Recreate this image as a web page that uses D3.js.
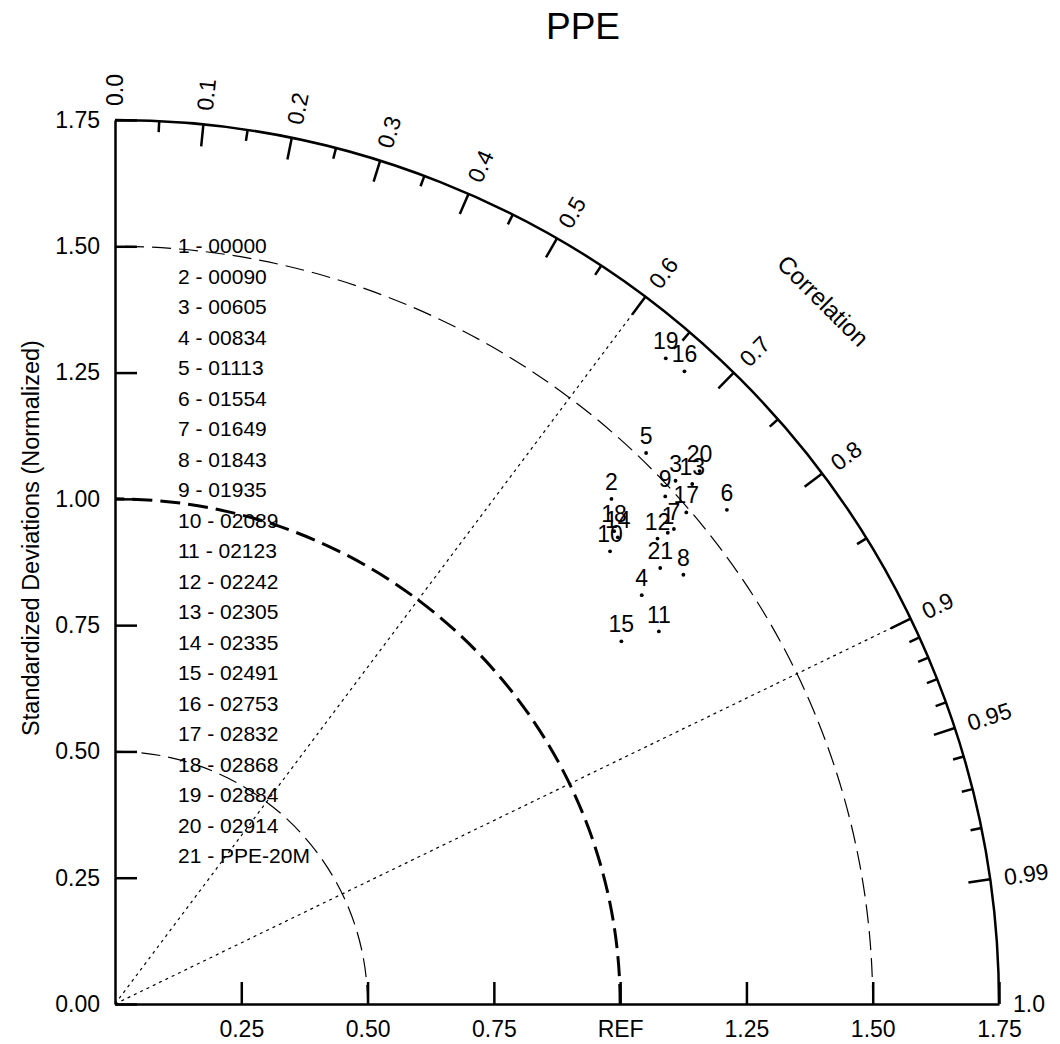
<!DOCTYPE html>
<html>
<head>
<meta charset="utf-8">
<script src="https://cdn.jsdelivr.net/npm/d3@7"></script>
<style>
  body { margin: 0; background: #fff; }
  svg text { font-family: "Liberation Sans", Arial, Helvetica, sans-serif; fill: #000; }
</style>
</head>
<body>
<div id="chart"></div>
<script>
// Case names (legend), numbered 1..21
const caseNames = ['00000', '00090', '00605', '00834', '01113', '01554', '01649', '01843', '01935',
  '02089', '02123', '02242', '02305', '02335', '02491', '02753', '02832', '02868', '02884', '02914',
  'PPE-20M'];

// Normalized standard deviation and correlation of each case
const stdDevs = [1.438, 1.402, 1.518, 1.320, 1.515, 1.557, 1.452, 1.410, 1.482, 1.328, 1.305,
  1.415, 1.538, 1.358, 1.233, 1.685, 1.492, 1.361, 1.680, 1.566, 1.382];
const correlations = [0.761, 0.701, 0.731, 0.790, 0.694, 0.778, 0.762, 0.798, 0.735, 0.738, 0.825,
  0.759, 0.743, 0.733, 0.813, 0.669, 0.758, 0.726, 0.649, 0.739, 0.781];

// Axis ticks
const sdTicks = [0, 0.25, 0.5, 0.75, 1.0, 1.25, 1.5, 1.75];
const corrMajor = [0.1, 0.2, 0.3, 0.4, 0.5, 0.6, 0.7, 0.8, 0.9, 0.95, 0.99];
const corrMinor = [0.05, 0.15, 0.25, 0.35, 0.45, 0.55, 0.65, 0.75, 0.85, 0.91, 0.92, 0.93, 0.94,
  0.96, 0.97, 0.98];
const corrLabels = [0.0, 0.1, 0.2, 0.3, 0.4, 0.5, 0.6, 0.7, 0.8, 0.9, 0.95, 0.99, 1.0];
const sdArcs = [0.5, 1.0, 1.5];
const corrLines = [0.6, 0.9];

class TaylorDiagram {
  constructor(_config) {
    this.config = {
      parentElement: _config.parentElement,
      containerWidth: 1060,
      containerHeight: 1044,
      origin: { x: 115, y: 1004 },
      maxSd: 1.75,
      radius: 884,
    };
    this.initVis();
  }

  initVis() {
    const vis = this;
    const c = vis.config;

    vis.svg = d3.select(c.parentElement).append('svg')
        .attr('width', c.containerWidth)
        .attr('height', c.containerHeight);

    vis.chart = vis.svg.append('g')
        .attr('transform', `translate(${c.origin.x},${c.origin.y})`);

    vis.xScale = d3.scaleLinear().domain([0, c.maxSd]).range([0, c.radius]);
    vis.yScale = d3.scaleLinear().domain([0, c.maxSd]).range([0, -c.radius]);
    vis.rScale = d3.scaleLinear().domain([0, c.maxSd]).range([0, c.radius]);

    vis.renderVis();
  }

  // polar -> screen, angle from correlation
  pt(sd, corr) {
    const r = this.rScale(sd);
    const a = Math.acos(corr);
    return [r * Math.cos(a), -r * Math.sin(a)];
  }

  arcPath(sd) {
    const r = this.rScale(sd);
    const p = d3.path();
    p.moveTo(r, 0);
    p.arc(0, 0, r, 0, -Math.PI / 2, true);
    return p.toString();
  }

  renderVis() {
    const vis = this;
    const c = vis.config;

    // title
    vis.svg.append('text')
        .attr('x', 583).attr('y', 39)
        .attr('text-anchor', 'middle')
        .style('font-size', '37px')
        .text('PPE');

    // std dev arcs (dashed), REF one thicker
    vis.chart.selectAll('.sd-arc')
        .data(sdArcs)
        .join('path')
        .attr('class', 'sd-arc')
        .attr('d', d => vis.arcPath(d))
        .attr('fill', 'none')
        .attr('stroke', '#000')
        .attr('stroke-width', d => d === 1.0 ? 3 : 1.2)
        .attr('stroke-dasharray', d => d === 1.0 ? '20,8' : '19,8');

    // correlation reference lines (dotted)
    vis.chart.selectAll('.corr-line')
        .data(corrLines)
        .join('line')
        .attr('class', 'corr-line')
        .attr('x1', 0).attr('y1', 0)
        .attr('x2', d => vis.pt(c.maxSd, d)[0])
        .attr('y2', d => vis.pt(c.maxSd, d)[1])
        .attr('stroke', '#000')
        .attr('stroke-width', 1.2)
        .attr('stroke-dasharray', '3,4');

    // outer arc
    vis.chart.append('path')
        .attr('d', vis.arcPath(c.maxSd))
        .attr('fill', 'none')
        .attr('stroke', '#000')
        .attr('stroke-width', 2.5);

    // axes
    const yAxis = d3.axisLeft(vis.yScale)
        .tickValues(sdTicks)
        .tickFormat(d3.format('.2f'))
        .tickSizeInner(-22)
        .tickSizeOuter(0)
        .tickPadding(15);

    const xAxis = d3.axisBottom(vis.xScale)
        .tickValues(sdTicks.slice(1))
        .tickFormat(d => d === 1 ? 'REF' : d3.format('.2f')(d))
        .tickSizeInner(-22)
        .tickSizeOuter(0)
        .tickPadding(17);

    const yG = vis.chart.append('g').call(yAxis);
    const xG = vis.chart.append('g').call(xAxis);
    [yG, xG].forEach(g => {
      g.attr('font-size', null).attr('font-family', null);
      g.selectAll('path, line').attr('stroke', '#000').attr('stroke-width', 2.5);
      g.selectAll('text').style('font-size', '23px').attr('fill', '#000');
    });

    // correlation ticks on the outer arc
    const tickData = corrMajor.map(d => ({ v: d, len: 22 }))
        .concat(corrMinor.map(d => ({ v: d, len: 11 })));
    vis.chart.selectAll('.corr-tick')
        .data(tickData)
        .join('line')
        .attr('class', 'corr-tick')
        .attr('x1', d => vis.pt(c.maxSd, d.v)[0])
        .attr('y1', d => vis.pt(c.maxSd, d.v)[1])
        .attr('x2', d => vis.pt(c.maxSd - vis.rScale.invert(d.len), d.v)[0])
        .attr('y2', d => vis.pt(c.maxSd - vis.rScale.invert(d.len), d.v)[1])
        .attr('stroke', '#000')
        .attr('stroke-width', 2.5);

    // correlation labels, radial
    const labR = vis.rScale.invert(c.radius + 14);
    vis.chart.selectAll('.corr-label')
        .data(corrLabels)
        .join('text')
        .attr('class', 'corr-label')
        .attr('transform', d => {
          const p = vis.pt(labR, d);
          const ang = Math.acos(d) * 180 / Math.PI;
          return `translate(${p[0]},${p[1]}) rotate(${-ang})`;
        })
        .attr('dy', '0.35em')
        .style('font-size', '23px')
        .text(d => d3.format(d === 0.95 || d === 0.99 ? '.2f' : '.1f')(d));

    const cp = vis.pt(vis.rScale.invert(998), Math.cos(44.8 * Math.PI / 180));
    vis.chart.append('text')
        .attr('transform', `translate(${cp[0]},${cp[1]}) rotate(45)`)
        .attr('text-anchor', 'middle')
        .attr('dy', '0.35em')
        .style('font-size', '24px')
        .text('Correlation');

    // y axis title
    vis.svg.append('text')
        .attr('transform', 'translate(39,538) rotate(-90)')
        .attr('text-anchor', 'middle')
        .style('font-size', '23.5px')
        .text('Standardized Deviations (Normalized)');

    // legend
    vis.svg.append('g').selectAll('text')
        .data(caseNames)
        .join('text')
        .attr('x', 178)
        .attr('y', (d, i) => 246 + i * 30.5)
        .attr('dy', '0.35em')
        .style('font-size', '21px')
        .text((d, i) => `${i + 1} - ${d}`);

    // points
    const points = stdDevs.map((sd, i) => ({ id: i + 1, sd: sd, corr: correlations[i] }));
    const pg = vis.chart.selectAll('.pt')
        .data(points)
        .join('g')
        .attr('class', 'pt')
        .attr('transform', d => `translate(${vis.pt(d.sd, d.corr)})`);
    pg.append('circle').attr('r', 1.9).attr('fill', '#000');
    pg.append('text')
        .attr('y', -17)
        .attr('dy', '0.35em')
        .attr('text-anchor', 'middle')
        .style('font-size', '23px')
        .text(d => d.id);
  }
}

new TaylorDiagram({ parentElement: '#chart' });
</script>
</body>
</html>
